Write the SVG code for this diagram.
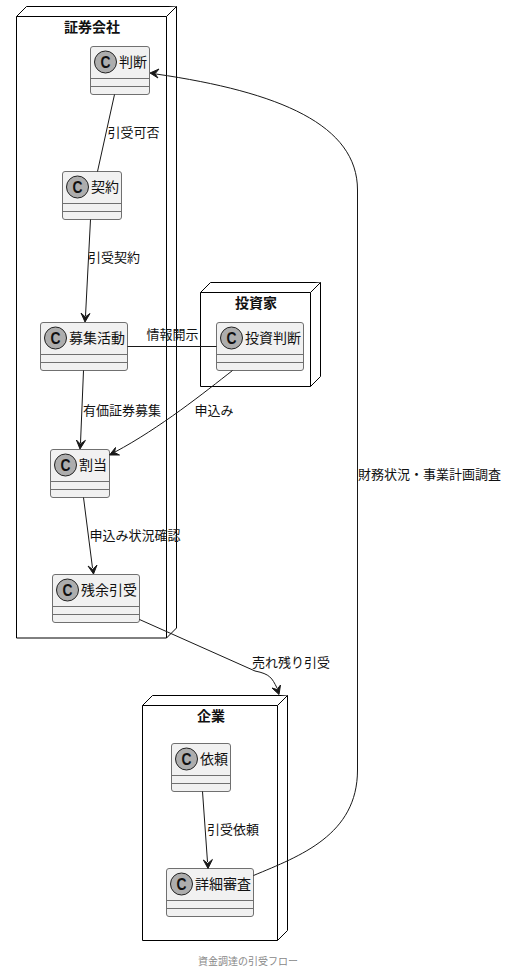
<svg xmlns="http://www.w3.org/2000/svg" width="508" height="974" viewBox="0 0 508 974">
<defs>
<style>
text{font-family:"Noto Sans CJK JP","Noto Sans",sans-serif;fill:#111}
.node{fill:#fff;stroke:#000;stroke-width:1}
.box{fill:#f1f1f1;stroke:#707070;stroke-width:1}
.sep{stroke:#707070;stroke-width:1}
.spot{fill:#adadad;stroke:#222;stroke-width:1}
.c{font-family:"Liberation Sans",sans-serif;font-size:17px;font-weight:bold;text-anchor:middle}
.t{font-size:14px}
.h{font-size:14px;font-weight:bold;text-anchor:middle}
.l{font-size:13px}
.e{fill:none;stroke:#181818;stroke-width:1}
.a{fill:#181818;stroke:#181818;stroke-width:1}
</style>
</defs>
<rect width="508" height="974" fill="#fff"/>
<g id="node-shoken">
<path class="node" d="M16.5 16.5L26.5 6.5H176.5V628L166.5 638H16.5Z"/>
<path class="node" d="M16.5 16.5H166.5L176.5 6.5M166.5 16.5V638"/>
<text class="h" x="92" y="32">証券会社</text>
</g>
<g id="node-toshika">
<path class="node" d="M200.5 292.5L210.5 282.5H320.5V376.5L310.5 386.5H200.5Z"/>
<path class="node" d="M200.5 292.5H310.5L320.5 282.5M310.5 292.5V386.5"/>
<text class="h" x="256" y="308">投資家</text>
</g>
<g id="node-kigyo">
<path class="node" d="M142.5 705.5L152.5 695.5H287.5V930.5L277.5 940.5H142.5Z"/>
<path class="node" d="M142.5 705.5H277.5L287.5 695.5M277.5 705.5V940.5"/>
<text class="h" x="211" y="721">企業</text>
</g>
<g id="class-handan">
<rect class="box" x="90.5" y="46.5" width="59" height="48" rx="2.5"/>
<path class="sep" d="M90.5 78.5H149.5M90.5 86.5H149.5"/>
<circle class="spot" cx="105.5" cy="62" r="11"/>
<text class="c" x="105.5" y="68" textLength="10" lengthAdjust="spacingAndGlyphs">C</text>
<text class="t" x="119" y="67">判断</text>
</g>
<g id="class-keiyaku">
<rect class="box" x="62.5" y="171.5" width="59" height="48" rx="2.5"/>
<path class="sep" d="M62.5 203.5H121.5M62.5 211.5H121.5"/>
<circle class="spot" cx="77.5" cy="187" r="11"/>
<text class="c" x="77.5" y="193" textLength="10" lengthAdjust="spacingAndGlyphs">C</text>
<text class="t" x="91" y="192">契約</text>
</g>
<g id="class-boshu">
<rect class="box" x="40.5" y="322.5" width="87" height="48" rx="2.5"/>
<path class="sep" d="M40.5 354.5H127.5M40.5 362.5H127.5"/>
<circle class="spot" cx="55.5" cy="338" r="11"/>
<text class="c" x="55.5" y="344" textLength="10" lengthAdjust="spacingAndGlyphs">C</text>
<text class="t" x="69" y="343">募集活動</text>
</g>
<g id="class-toshihandan">
<rect class="box" x="216.5" y="322.5" width="87" height="48" rx="2.5"/>
<path class="sep" d="M216.5 354.5H303.5M216.5 362.5H303.5"/>
<circle class="spot" cx="231.5" cy="338" r="11"/>
<text class="c" x="231.5" y="344" textLength="10" lengthAdjust="spacingAndGlyphs">C</text>
<text class="t" x="245" y="343">投資判断</text>
</g>
<g id="class-wariate">
<rect class="box" x="50.5" y="449.5" width="59" height="48" rx="2.5"/>
<path class="sep" d="M50.5 481.5H109.5M50.5 489.5H109.5"/>
<circle class="spot" cx="65.5" cy="465" r="11"/>
<text class="c" x="65.5" y="471" textLength="10" lengthAdjust="spacingAndGlyphs">C</text>
<text class="t" x="79" y="470">割当</text>
</g>
<g id="class-zanyo">
<rect class="box" x="52.5" y="574.5" width="87" height="48" rx="2.5"/>
<path class="sep" d="M52.5 606.5H139.5M52.5 614.5H139.5"/>
<circle class="spot" cx="67.5" cy="590" r="11"/>
<text class="c" x="67.5" y="596" textLength="10" lengthAdjust="spacingAndGlyphs">C</text>
<text class="t" x="81" y="595">残余引受</text>
</g>
<g id="class-irai">
<rect class="box" x="171.5" y="743.5" width="59" height="48" rx="2.5"/>
<path class="sep" d="M171.5 775.5H230.5M171.5 783.5H230.5"/>
<circle class="spot" cx="186.5" cy="759" r="11"/>
<text class="c" x="186.5" y="765" textLength="10" lengthAdjust="spacingAndGlyphs">C</text>
<text class="t" x="200" y="764">依頼</text>
</g>
<g id="class-shosai">
<rect class="box" x="166.5" y="868.5" width="87" height="48" rx="2.5"/>
<path class="sep" d="M166.5 900.5H253.5M166.5 908.5H253.5"/>
<circle class="spot" cx="181.5" cy="884" r="11"/>
<text class="c" x="181.5" y="890" textLength="10" lengthAdjust="spacingAndGlyphs">C</text>
<text class="t" x="195" y="889">詳細審査</text>
</g>
<g id="connectors">
<path class="e" d="M114.5 94.5L97.5 171.5"/>
<text class="l" x="107.5" y="137">引受可否</text>
<path class="e" d="M90.5 219.5L85.5 316"/>
<path class="a" d="M85 322L81 313L85.3 317L90 313.5Z"/>
<text class="l" x="88" y="262">引受契約</text>
<path class="e" d="M127.5 346.5H216.5"/>
<text class="l" x="146.5" y="339">情報開示</text>
<path class="e" d="M83.5 370.5L80.5 443"/>
<path class="a" d="M80 449L76.4 440L80.3 444L85.4 440.4Z"/>
<text class="l" x="83" y="415">有価証券募集</text>
<path class="e" d="M232.5 370.5C205 392 160 428 115 452"/>
<path class="a" d="M109.5 455L115.5 447.5L114.5 452.5L119.5 455Z"/>
<text class="l" x="194.5" y="415">申込み</text>
<path class="e" d="M83.5 497.5L92.5 568"/>
<path class="a" d="M93.5 574L88 566L92.7 569.5L97 565Z"/>
<text class="l" x="89.5" y="540">申込み状況確認</text>
<path class="e" d="M139.5 619.5L255 671C270 674 272 678 277 688"/>
<path class="a" d="M279 694.5L272 688L277 689.5L280.5 685Z"/>
<text class="l" x="252" y="667">売れ残り引受</text>
<path class="e" d="M202.5 791.5L207.5 862"/>
<path class="a" d="M208 868.5L203.4 860L207.7 863.5L212.4 859.5Z"/>
<text class="l" x="207" y="834">引受依頼</text>
<path class="e" d="M253.5 875.5C300 856 357.5 835 357.5 770V190C357.5 125 280 92 156 74"/>
<path class="a" d="M150 73L159 69L155 73.8L158 78Z"/>
<text class="l" x="358" y="479">財務状況・事業計画調査</text>
</g>
<text x="248" y="965" text-anchor="middle" font-size="10" style="fill:#888">資金調達の引受フロー</text>
</svg>
